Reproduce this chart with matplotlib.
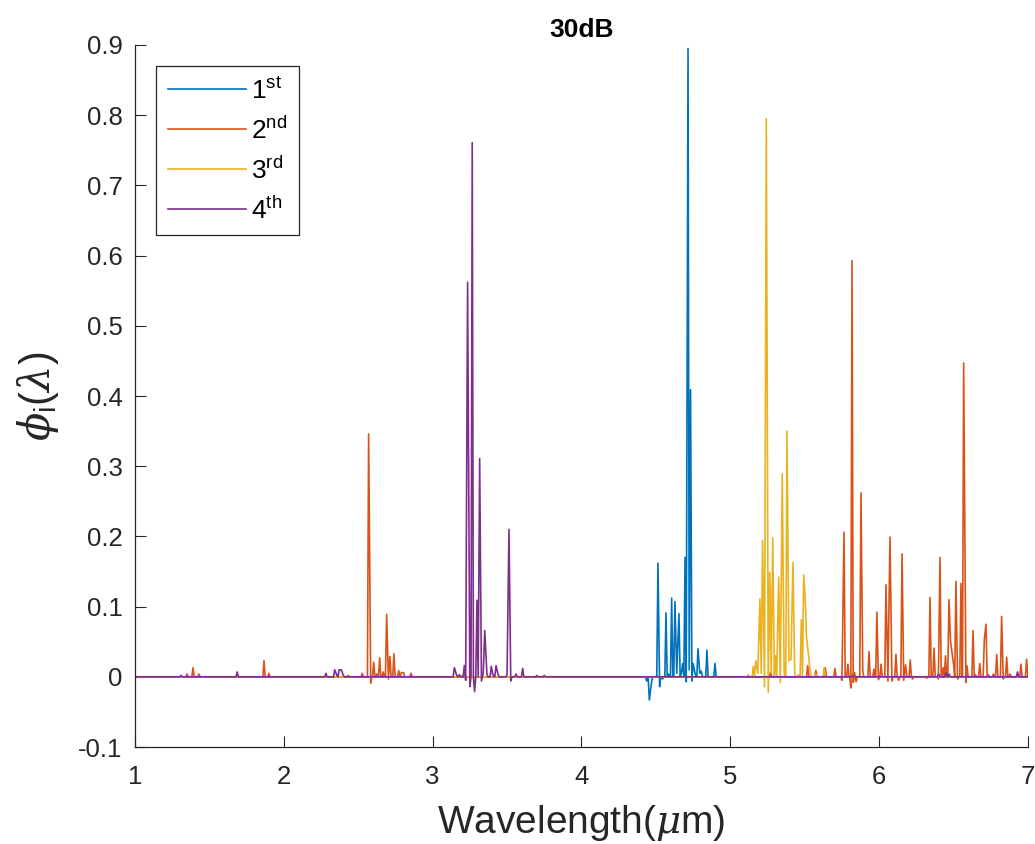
import matplotlib

matplotlib.use("Agg")
import matplotlib.pyplot as plt
import numpy as np

plt.rcParams["font.family"] = ["Liberation Sans", "DejaVu Sans"]
plt.rcParams["mathtext.fontset"] = "custom"
plt.rcParams["mathtext.rm"] = "Liberation Sans"
plt.rcParams["mathtext.it"] = "DejaVu Serif:italic"
plt.rcParams["axes.unicode_minus"] = False

# peak positions (um) and heights, one pair per order
first_wl = [4.438, 4.456, 4.470, 4.514, 4.525, 4.545, 4.568, 4.585, 4.606, 4.628,
            4.640, 4.655, 4.672, 4.680, 4.696, 4.704, 4.716, 4.724, 4.733, 4.742,
            4.750, 4.763, 4.783, 4.795, 4.805, 4.843, 4.897, 5.820]
first_val = [-0.006, -0.033, -0.009, 0.162, -0.014, -0.003, 0.091, 0.004, 0.112, 0.107,
             0.005, 0.090, 0.006, 0.019, 0.170, -0.007, 0.895, 0.010, 0.409, -0.006,
             0.019, 0.005, 0.040, 0.005, 0.008, 0.038, 0.019, 0.003]

second_wl = [1.350, 1.390, 1.430, 1.867, 1.900, 2.433, 2.527, 2.570, 2.584, 2.604,
             2.625, 2.644, 2.668, 2.691, 2.703, 2.713, 2.740, 2.772, 2.790, 2.805,
             2.855, 5.270, 5.520, 5.575, 5.638, 5.703, 5.750, 5.764, 5.790, 5.810,
             5.818, 5.826, 5.835, 5.845, 5.878, 5.890, 5.932, 5.965, 5.985, 5.995,
             6.013, 6.046, 6.059, 6.073, 6.086, 6.113, 6.132, 6.154, 6.165, 6.178,
             6.209, 6.225, 6.320, 6.342, 6.369, 6.398, 6.409, 6.430, 6.446, 6.469,
             6.480, 6.491, 6.500, 6.516, 6.527, 6.550, 6.568, 6.583, 6.590, 6.631,
             6.647, 6.676, 6.707, 6.718, 6.734, 6.768, 6.790, 6.823, 6.834, 6.857,
             6.880, 6.953, 6.991]
second_val = [0.004, 0.013, 0.004, 0.023, 0.005, 0.002, 0.005, 0.346, -0.009, 0.021,
              0.004, 0.027, 0.007, 0.089, -0.003, 0.029, 0.033, 0.009, 0.006, 0.006,
              0.005, 0.006, 0.016, 0.009, 0.013, 0.012, -0.005, 0.206, 0.018, -0.016,
              0.593, -0.008, 0.006, -0.007, 0.262, 0.008, 0.036, 0.011, 0.092, -0.004,
              0.018, 0.131, -0.006, 0.199, -0.006, 0.032, -0.005, 0.175, -0.005, 0.017,
              0.024, -0.003, -0.002, 0.113, 0.041, -0.003, 0.170, 0.013, 0.030, 0.110,
              0.050, 0.032, 0.018, 0.136, -0.003, 0.133, 0.447, -0.008, 0.016, 0.066,
              0.003, 0.019, 0.054, 0.075, 0.003, 0.004, 0.032, 0.086, -0.003, 0.028,
              0.004, 0.018, 0.025]

third_wl = [3.200, 5.121, 5.155, 5.171, 5.185, 5.199, 5.208, 5.217, 5.230, 5.242,
            5.255, 5.265, 5.275, 5.285, 5.296, 5.303, 5.312, 5.325, 5.336, 5.349,
            5.362, 5.381, 5.394, 5.408, 5.421, 5.433, 5.458, 5.477, 5.493, 5.504,
            5.512, 5.525, 5.540, 5.575, 5.630]
third_val = [0.002, 0.003, 0.015, 0.023, 0.005, 0.111, 0.005, 0.194, -0.014, 0.795,
             -0.022, 0.149, 0.006, 0.198, 0.000, 0.030, 0.000, 0.142, -0.008, 0.289,
             0.005, 0.350, 0.023, 0.025, 0.163, 0.004, 0.003, 0.081, 0.145, 0.108,
             0.057, 0.032, 0.003, 0.004, 0.013]

fourth_wl = [1.310, 1.687, 2.283, 2.342, 2.355, 2.372, 2.386, 2.400, 3.146, 3.160,
             3.180, 3.213, 3.222, 3.235, 3.250, 3.266, 3.282, 3.298, 3.306, 3.316,
             3.328, 3.340, 3.350, 3.365, 3.394, 3.405, 3.426, 3.440, 3.500, 3.513,
             3.525, 3.560, 3.605, 3.700, 3.750, 6.400, 6.450, 6.470, 6.930]
fourth_val = [0.002, 0.007, 0.005, 0.010, 0.003, 0.010, 0.010, 0.002, 0.013, 0.003,
              0.003, 0.016, -0.005, 0.562, -0.014, 0.761, -0.021, 0.109, 0.000, 0.311,
              -0.006, 0.005, 0.066, 0.003, 0.015, 0.003, 0.016, 0.003, 0.003, 0.210,
              -0.006, 0.004, 0.012, 0.002, 0.002, 0.004, 0.006, 0.004, 0.007]

labels = ["1$^{\\mathrm{st}}$", "2$^{\\mathrm{nd}}$", "3$^{\\mathrm{rd}}$", "4$^{\\mathrm{th}}$"]
colors = ["#0072BD", "#D95319", "#EDB120", "#7E2F8E"]
x_range = (1.0, 7.0)
HALF_WIDTH = 0.008


def spike_trace(wl, val):
    # baseline at zero with each sampled point joined to its neighbours
    xs, ys = [x_range[0]], [0.0]
    for i, (x, y) in enumerate(zip(wl, val)):
        if i == 0 or x - wl[i - 1] > 2 * HALF_WIDTH:
            xs.append(x - HALF_WIDTH)
            ys.append(0.0)
        xs.append(x)
        ys.append(y)
        if i == len(wl) - 1 or wl[i + 1] - x > 2 * HALF_WIDTH:
            xs.append(x + HALF_WIDTH)
            ys.append(0.0)
    xs.append(x_range[1])
    ys.append(0.0)
    return np.array(xs), np.array(ys)


fig = plt.figure(figsize=(10.35, 8.44), dpi=100)
ax = fig.add_axes([0.1304, 0.1149, 0.8628, 0.8318])

series = [(first_wl, first_val), (second_wl, second_val), (third_wl, third_val), (fourth_wl, fourth_val)]
for (wl, val), label, color in zip(series, labels, colors):
    xs, ys = spike_trace(wl, val)
    ax.plot(xs, ys, color=color, linewidth=1.2, label=label)

ax.set_xlim(*x_range)
ax.set_ylim(-0.1, 0.9)
ax.set_xticks(np.arange(1, 8))
ax.set_yticks(np.round(np.arange(-0.1, 0.91, 0.1), 1))
ax.set_yticklabels(["-0.1", "0", "0.1", "0.2", "0.3", "0.4", "0.5", "0.6", "0.7", "0.8", "0.9"])
ax.tick_params(direction="in", length=8, width=0.8, labelsize=18.5, colors="#262626")
ax.tick_params(axis="x", pad=13)
ax.tick_params(axis="y", pad=9)
for side in ["top", "right"]:
    ax.spines[side].set_visible(False)
for side in ["left", "bottom"]:
    ax.spines[side].set_color("#262626")
    ax.spines[side].set_linewidth(0.9)

ax.set_title("30dB", fontsize=19, fontweight="bold", pad=6)
ax.set_xlabel("Wavelength($\\mu$m)", fontsize=28, color="#262626", labelpad=10)
ax.set_ylabel("$\\phi_{\\mathrm{i}}(\\lambda)$", fontsize=30, color="#262626", labelpad=12)

leg = ax.legend(loc="upper left", bbox_to_anchor=(0.0235, 0.9705), borderaxespad=0,
                fontsize=19, handlelength=2.95, handletextpad=0.2, labelspacing=0.49,
                fancybox=False, framealpha=1, edgecolor="#262626", borderpad=0.45)
leg.get_frame().set_linewidth(0.9)

fig.savefig("out.png", dpi=100)
